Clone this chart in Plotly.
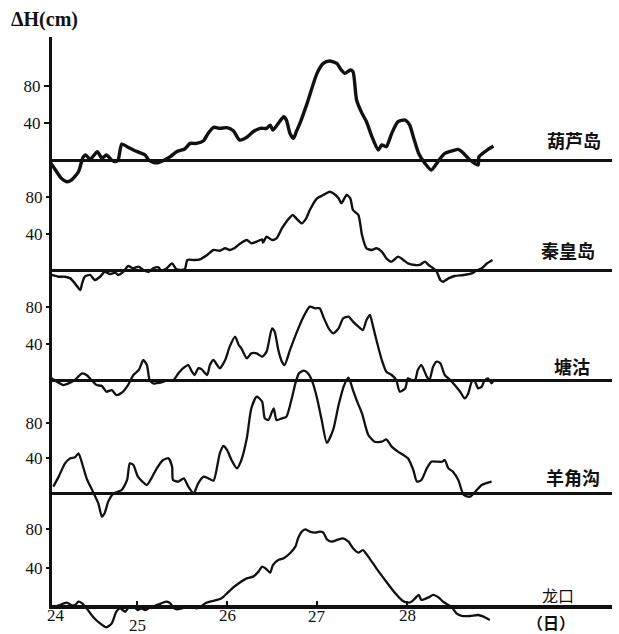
import plotly.graph_objects as go

# Storm-surge residual water level ΔH (cm) at five Bohai stations, by day of month

days_huludao = [24.03, 24.07, 24.16, 24.22, 24.27, 24.35, 24.40, 24.43, 24.48, 24.56, 24.61, 24.66,
                24.72, 24.76, 24.79, 24.83, 24.89, 24.96, 25.03, 25.09, 25.13, 25.18, 25.24, 25.29,
                25.37, 25.44, 25.53, 25.59, 25.66, 25.74, 25.79, 25.85, 25.92, 26.00, 26.07, 26.14,
                26.22, 26.29, 26.37, 26.44, 26.48, 26.51, 26.57, 26.63, 26.66, 26.70, 26.74, 26.77,
                26.81, 26.89, 27.00, 27.07, 27.14, 27.22, 27.27, 27.31, 27.37, 27.40, 27.44, 27.50,
                27.55, 27.61, 27.68, 27.72, 27.77, 27.83, 27.90, 27.98, 28.03, 28.07, 28.13, 28.20,
                28.27, 28.33, 28.37, 28.42, 28.51, 28.57, 28.63, 28.70, 28.79, 28.80, 28.89, 28.96]
surge_huludao = [-1, -6.4, -18.9, -22.5, -20.7, -11.8, 3.6, 6.1, 1.4, 9.6, 2.5, 6.1,
                 0.7, -1, 0.7, 17.8, 15, 11.4, 8.6, 6.1, 0.7, -1.8, -2.1, 0,
                 4.3, 9.6, 12.5, 18.5, 18.5, 21.4, 29.2, 35.7, 34.6, 35.3, 32.1, 22.1,
                 25, 31, 34.6, 34.6, 38.1, 32.8, 39.9, 47, 43.5, 29.2, 23.9, 31,
                 39.9, 61.3, 93.4, 104.1, 106.6, 104.1, 97, 93.4, 97, 95.2, 64.9, 50.6,
                 41.7, 25.7, 11.4, 16.8, 15, 29.2, 41.7, 43.5, 38.1, 25.7, 7.8, -2.9,
                 -10, -2.9, 2.5, 7.8, 10.7, 12.1, 7.8, 0.7, -4.6, 4.3, 11.4, 15.7]

days_qinhuangdao = [24.05, 24.13, 24.20, 24.26, 24.31, 24.37, 24.39, 24.42, 24.48, 24.53, 24.59, 24.64,
                    24.70, 24.76, 24.79, 24.85, 24.90, 24.96, 25.02, 25.07, 25.13, 25.18, 25.24, 25.27,
                    25.33, 25.39, 25.44, 25.53, 25.56, 25.63, 25.70, 25.78, 25.85, 25.92, 25.98, 26.03,
                    26.09, 26.14, 26.22, 26.27, 26.33, 26.39, 26.40, 26.44, 26.50, 26.55, 26.61, 26.66,
                    26.73, 26.77, 26.83, 26.88, 26.92, 27.00, 27.07, 27.14, 27.18, 27.24, 27.27, 27.33,
                    27.37, 27.40, 27.46, 27.50, 27.55, 27.61, 27.66, 27.72, 27.77, 27.83, 27.90, 27.96,
                    28.01, 28.09, 28.14, 28.20, 28.24, 28.29, 28.33, 28.37, 28.40, 28.46, 28.53, 28.63,
                    28.72, 28.77, 28.83, 28.89, 28.95]
surge_qinhuangdao = [-4.6, -6.5, -6.5, -8.3, -13.7, -20.9, -13.7, -6.5, -4.6, -10.1, -6.5, -1.1,
                     -3.6, -2.1, -4.6, -1.1, 5.0, 2.6, 4.4, 0.8, -1.1, 2.6, 3.6, 0,
                     2.6, 7.9, 1.5, 1.5, 11.6, 11.6, 12.3, 17, 22.4, 21.6, 24.2, 22.4,
                     24.9, 28.9, 33.2, 29.6, 31.4, 33.9, 30.3, 36.8, 33.2, 35, 45.8, 53,
                     60.2, 56.6, 51.2, 56.6, 65.6, 78.3, 81.8, 85.4, 83.6, 78.3, 72.8, 81.8,
                     78.3, 65.6, 60.2, 38.6, 24.2, 22.4, 24.2, 20.6, 13.4, 9.8, 15.2, 11.6,
                     8, 6.2, 6.2, 9.8, 6.2, 2.6, -1.0, -10.1, -11.9, -8.3, -5.7, -4.6,
                     -2.8, 0, 2.6, 8, 11.6]

days_tanggu = [24.05, 24.11, 24.18, 24.24, 24.31, 24.39, 24.44, 24.50, 24.55, 24.61, 24.66, 24.72,
               24.77, 24.83, 24.90, 24.96, 25.02, 25.07, 25.11, 25.14, 25.18, 25.26, 25.33, 25.40,
               25.46, 25.51, 25.57, 25.61, 25.64, 25.68, 25.72, 25.78, 25.81, 25.85, 25.89, 25.92,
               25.98, 26.03, 26.09, 26.13, 26.16, 26.22, 26.27, 26.33, 26.39, 26.44, 26.50, 26.53,
               26.57, 26.61, 26.64, 26.70, 26.77, 26.85, 26.92, 26.98, 27.03, 27.07, 27.13, 27.18,
               27.24, 27.29, 27.35, 27.40, 27.46, 27.51, 27.55, 27.59, 27.61, 27.66, 27.72, 27.77,
               27.83, 27.88, 27.92, 27.98, 28.01, 28.05, 28.09, 28.12, 28.16, 28.22, 28.25, 28.29,
               28.33, 28.37, 28.42, 28.48, 28.53, 28.59, 28.64, 28.68, 28.72, 28.75, 28.79, 28.83,
               28.86, 28.90, 28.94, 28.97]
surge_tanggu = [2.6, -1.1, -4.7, -2.9, 0.8, 8, 6.2, 0, -4.7, -5.8, -12, -10.2,
                -15.6, -13.1, -4.7, 6.2, 11.6, 22.5, 17, 0.8, -2.9, -2.2, 0, 0,
                8, 13.4, 17, 9.8, 6.2, 13.4, 12.3, 6.2, 17, 22.5, 17, 13.4,
                22.5, 37, 47.9, 38.8, 35.2, 24.3, 29.7, 29.7, 26.1, 31.6, 56.9, 53.3,
                33.4, 20.7, 17, 33.4, 51.5, 69.6, 80.5, 78.7, 78.7, 69.6, 56.9, 51.5,
                56.9, 67.8, 69.6, 64.2, 58.7, 55.1, 66, 71.4, 64.2, 44.2, 22.5, 9.8,
                6.2, 0.8, -11.9, -8.3, 2.6, 0.8, 0.8, 11.6, 17, 4.4, 0.8, 15.2,
                20.7, 18.9, 6.2, 0.8, -4.7, -11.9, -19.2, -13.8, -1.1, 0, -8.3, -6.5,
                0, 2.6, -2.9, 1.5]

days_yangjiaogou = [24.07, 24.13, 24.20, 24.26, 24.31, 24.35, 24.39, 24.44, 24.51, 24.57, 24.61, 24.64,
                    24.68, 24.74, 24.83, 24.89, 24.92, 24.96, 25.01, 25.11, 25.16, 25.22, 25.29, 25.35,
                    25.39, 25.40, 25.46, 25.52, 25.57, 25.63, 25.68, 25.74, 25.79, 25.85, 25.92, 25.96,
                    26.00, 26.05, 26.11, 26.16, 26.22, 26.27, 26.33, 26.39, 26.42, 26.46, 26.50, 26.52,
                    26.55, 26.61, 26.66, 26.72, 26.76, 26.80, 26.85, 26.90, 26.95, 27.00, 27.05, 27.11,
                    27.18, 27.24, 27.30, 27.35, 27.40, 27.45, 27.50, 27.57, 27.64, 27.72, 27.77, 27.83,
                    27.90, 27.96, 28.01, 28.07, 28.11, 28.16, 28.22, 28.27, 28.33, 28.39, 28.42, 28.46,
                    28.51, 28.57, 28.63, 28.70, 28.76, 28.83, 28.94]
surge_yangjiaogou = [7.2, 18.6, 33.7, 39.4, 40.5, 45.1, 33.7, 16.7, 1.5, -11.7, -26.9, -23.1,
                     -9.8, -0.4, 3.4, 14.8, 33.7, 31.8, 18.6, 9.1, 16.7, 28, 37.5, 39.4,
                     29.9, 14.8, 12.9, 16.7, 7.2, -0.4, 11, 18.6, 16.7, 14, 45.1, 53.4,
                     48.9, 37.5, 28, 37.5, 62.1, 96.2, 109.5, 103.8, 84.8, 83, 92.4, 96.2,
                     83, 84.8, 86.7, 107.6, 124.6, 136, 139, 136, 126, 108, 84, 57,
                     72, 100, 122, 131, 117, 103, 90.5, 65.9, 58.3, 58.3, 61, 52.7,
                     47, 43.2, 39.4, 26.1, 12.9, 14.8, 28, 35.6, 35.6, 35.6, 37.5, 28,
                     24.2, 14.8, -2.3, -4.2, 1.5, 9.1, 12.9]

days_longkou = [24.09, 24.14, 24.22, 24.27, 24.31, 24.35, 24.39, 24.44, 24.51, 24.59, 24.66, 24.72,
                24.77, 24.81, 24.87, 24.90, 24.96, 25.01, 25.05, 25.09, 25.13, 25.18, 25.22, 25.27,
                25.33, 25.37, 25.40, 25.44, 25.50, 25.55, 25.61, 25.66, 25.70, 25.76, 25.81, 25.89,
                25.94, 26.00, 26.07, 26.14, 26.22, 26.29, 26.35, 26.39, 26.44, 26.48, 26.51, 26.57,
                26.63, 26.70, 26.76, 26.79, 26.83, 26.87, 26.92, 26.98, 27.03, 27.07, 27.11, 27.16,
                27.24, 27.29, 27.35, 27.40, 27.46, 27.51, 27.57, 27.66, 27.77, 27.87, 27.94, 28.00,
                28.05, 28.09, 28.13, 28.16, 28.24, 28.29, 28.35, 28.40, 28.46, 28.50, 28.55, 28.61,
                28.70, 28.79, 28.85, 28.92]
surge_longkou = [-0.7, 1, 3.5, 1, 1, 4.5, 2.8, -2.4, -11.1, -18.1, -22.2, -18.1,
                 -5.9, -2.4, -5.9, -2.4, -0.7, -4.2, -2.4, -4.2, -2.4, -0.7, 1, 2.8,
                 4.5, 2.8, -1.4, -3.5, -2.4, -1.4, -0.7, -2.4, -1.4, 2.8, 4.5, 6.3,
                 8, 13.2, 19.4, 24.3, 28.8, 30.6, 35.8, 41, 38.2, 34.7, 42.7, 47.9,
                 49.7, 54.9, 61.8, 70.5, 77.4, 79.9, 77.5, 76.4, 77.4, 76.4, 69.4, 67,
                 69.4, 70.5, 67, 60.1, 55.6, 58.3, 51.4, 39.2, 25.3, 13.2, 6.3, 3.5,
                 4.5, 8, 11.5, 6.3, 9, 11.5, 9, 4.5, 1, -1.4, -7.6, -10.4,
                 -10.4, -9.4, -11.1, -14.6]

stations = ["葫芦岛", "秦皇岛", "塘沽", "羊角沟", "龙口"]
y_ticks = [40, 80]
day_ticks = [25, 26, 27, 28]
day_labels = ["24", "25", "26", "27", "28"]
day_label_pos = [24.1, 25.0, 26.0, 27.0, 28.0]

series = [
    (days_huludao, surge_huludao),
    (days_qinhuangdao, surge_qinhuangdao),
    (days_tanggu, surge_tanggu),
    (days_yangjiaogou, surge_yangjiaogou),
    (days_longkou, surge_longkou),
]

# Layout in pixels
W, H = 619, 634
ML, MR, MT, MB = 52, 7, 37, 0
plot_h = H - MT - MB
# baseline pixel row and vertical scale (px per cm) of each station strip
baselines = [160.7, 270.7, 380.7, 493.0, 606.0]
scales = [0.935, 0.925, 0.92, 0.88, 0.96]
line_widths = [3.4, 2.4, 2.3, 2.3, 2.3]
x_range = [24 + (ML - 47) / 90, 24 + (W - MR - 47) / 90]

ink = "#111111"
serif = "Liberation Serif, Times New Roman, serif"
cjk = "Noto Sans CJK SC, sans-serif"

fig = go.Figure()
for i, (xd, yd) in enumerate(series):
    fig.add_trace(go.Scatter(
        x=xd, y=yd, mode="lines",
        line=dict(color=ink, width=line_widths[i], shape="spline", smoothing=0.6),
        xaxis="x", yaxis="y" if i == 0 else f"y{i + 1}",
        showlegend=False, hoverinfo="skip",
    ))

layout = dict(
    width=W, height=H,
    margin=dict(l=ML, r=MR, t=MT, b=MB),
    paper_bgcolor="white", plot_bgcolor="rgba(0,0,0,0)",
    showlegend=False,
    xaxis=dict(range=x_range, anchor="y", showgrid=False, zeroline=False,
               showline=True, linecolor=ink, linewidth=2.5,
               tickvals=day_ticks, ticks="inside", ticklen=5, tickwidth=2,
               tickcolor=ink, showticklabels=False),
)

for i in range(5):
    b, s = baselines[i], scales[i]
    top = (b - MT) / s
    bottom = (b - (H - MB)) / s
    name = "yaxis" if i == 0 else f"yaxis{i + 1}"
    if i == 0:
        dom_bottom = (H - MB - baselines[-1]) / plot_h
        bottom = (b - baselines[-1]) / s
        ax = dict(domain=[dom_bottom, 1], showline=True, linecolor=ink, linewidth=3)
    else:
        ax = dict(domain=[0, 1], anchor="x", showline=False)
    ax.update(range=[bottom, top], showgrid=False,
              zeroline=True, zerolinecolor=ink, zerolinewidth=2.6,
              tickvals=y_ticks, ticktext=[str(v) for v in y_ticks],
              ticks="outside", ticklen=5, tickwidth=2, tickcolor=ink,
              tickfont=dict(family=serif, size=17, color=ink))
    layout[name] = ax

fig.update_layout(**layout)

# Station names at the right end of each baseline
label_x = [29.86, 29.79, 29.83, 29.84, 29.68]
label_y = [22, 22.4, 16, 18.5, 11.5]
for i, name in enumerate(stations):
    fig.add_annotation(
        x=label_x[i], y=label_y[i], xref="x", yref="y" if i == 0 else f"y{i + 1}",
        text=f"<b>{name}</b>" if i < 4 else name, showarrow=False,
        font=dict(family=cjk, size=18 if i < 4 else 16, color=ink),
        xanchor="center", yanchor="middle",
    )

# Day labels along the bottom axis
label_rows = [-10.4, -19.8, -10.4, -11.4, -10.4]
for pos, txt, yy in zip(day_label_pos, day_labels, label_rows):
    fig.add_annotation(x=pos, y=yy, xref="x", yref="y5", text=txt, showarrow=False,
                       font=dict(family=serif, size=17, color=ink),
                       xanchor="center", yanchor="middle")

fig.add_annotation(x=29.6, y=-16.3, xref="x", yref="y5", text="<b>（日）</b>",
                   showarrow=False, font=dict(family=cjk, size=16, color=ink),
                   xanchor="center", yanchor="middle")

# Axis title
fig.add_annotation(x=(9 - ML) / (W - ML - MR), y=(H - MB - 20) / plot_h,
                   xref="paper", yref="paper", text="<b>ΔH(cm)</b>", showarrow=False,
                   font=dict(family=serif, size=20, color=ink),
                   xanchor="left", yanchor="middle")

fig.write_html("out.html")
